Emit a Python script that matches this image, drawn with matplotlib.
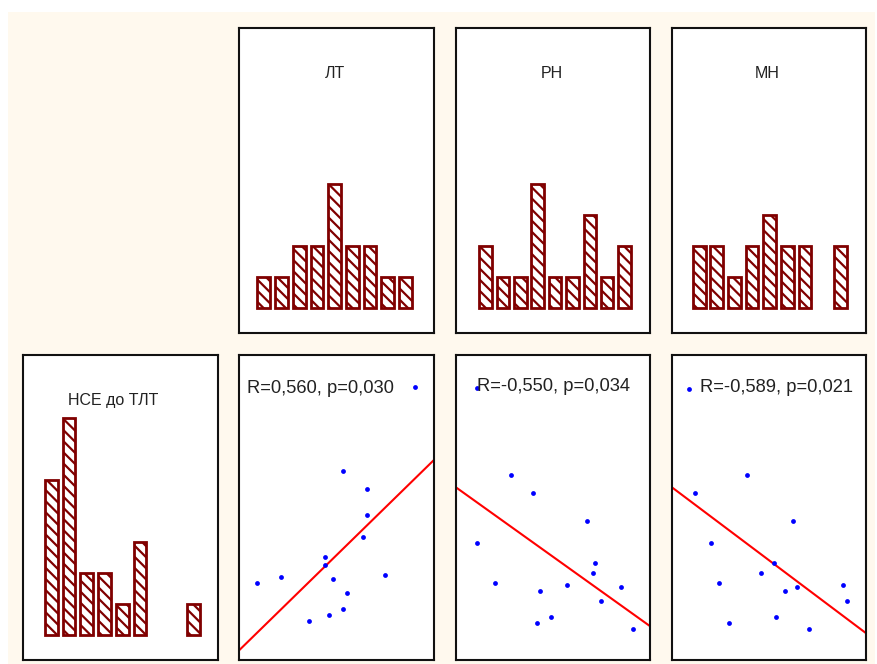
import numpy as np
import matplotlib.pyplot as plt
from matplotlib.patches import Rectangle

plt.rcParams['font.family'] = ['Liberation Sans', 'DejaVu Sans']
plt.rcParams['hatch.linewidth'] = 1.6

# ---------------- data ----------------
var_names = ['НСЕ до ТЛТ', 'ЛТ', 'РН', 'МН']

# histograms, 9 bins each
bin_idx = np.arange(9)
hist_nse = [5, 7, 2, 2, 1, 3, 0, 0, 1]
hist_lt = [1, 1, 2, 2, 4, 2, 2, 1, 1]
hist_rn = [2, 1, 1, 4, 1, 1, 3, 1, 2]
hist_mn = [2, 2, 1, 2, 3, 2, 2, 0, 2]

# scatter panels: x = column variable, y = НСЕ до ТЛТ (relative units 0..100)
lt_x = [90.2, 53.2, 65.5, 65.5, 63.4, 44.0, 44.0, 8.9, 21.1, 48.1, 74.7, 55.2, 53.2, 46.0, 35.7]
lt_y = [89.6, 62.1, 56.2, 47.6, 40.4, 33.9, 31.2, 25.2, 27.2, 26.6, 27.9, 22.0, 16.7, 14.8, 12.8]

rn_x = [11.0, 28.5, 39.8, 67.7, 11.0, 71.8, 70.8, 20.3, 43.1, 57.4, 85.2, 74.9, 49.1, 41.9, 91.4]
rn_y = [89.1, 60.8, 54.8, 45.7, 38.5, 31.9, 28.5, 25.2, 22.6, 24.6, 23.9, 19.3, 14.1, 12.1, 10.2]

mn_x = [8.9, 38.8, 12.0, 62.5, 20.3, 52.4, 46.0, 24.4, 58.4, 64.6, 88.3, 90.4, 53.5, 29.5, 70.8]
mn_y = [89.0, 60.8, 54.8, 45.7, 38.5, 31.9, 28.5, 25.2, 22.6, 23.9, 24.6, 19.3, 14.1, 12.1, 10.2]

# regression lines (intercept, slope)
fit_lt = (3.3, 0.623)
fit_rn = (56.6, -0.455)
fit_mn = (56.6, -0.478)

stat_labels = ['R=0,560, p=0,030', 'R=-0,550, p=0,034', 'R=-0,589, p=0,021']

# ---------------- layout (pixels) ----------------
W, H = 877, 664
COLS = [(23, 195), (239.5, 194.5), (456, 194), (672, 194)]
ROWS = [(28, 305), (355, 305)]
HIST_XLIM = [(-1.594, 9.39), (-1.365, 9.605), (-1.698, 9.467), (-1.542, 9.456)]
HIST_YLIM = (-0.816, 9.02)
TITLE_X = [0.463, 0.491, 0.492, 0.49]
STAT_POS = [(0.04, 0.889), (0.107, 0.896), (0.146, 0.894)]

BAR_RED = '#800000'
CREAM = '#fff9ee'

fig = plt.figure(figsize=(W / 100, H / 100), dpi=100)
fig.patch.set_facecolor('white')
fig.patches.append(Rectangle((8 / W, 0), (W - 10) / W, (H - 12) / H,
                             transform=fig.transFigure, facecolor=CREAM,
                             edgecolor='none', zorder=-10))


def add_panel(col, row):
    left, w = COLS[col]
    top, h = ROWS[row]
    ax = fig.add_axes([left / W, (H - top - h) / H, w / W, h / H])
    ax.set_facecolor('white')
    ax.set_xticks([])
    ax.set_yticks([])
    for s in ax.spines.values():
        s.set_linewidth(1.5)
        s.set_color('#111111')
    return ax


def draw_hist(ax, counts, col, title, title_y):
    counts = np.asarray(counts)
    keep = counts > 0
    ax.bar(bin_idx[keep], counts[keep], width=0.72, bottom=0,
           facecolor='white', edgecolor=BAR_RED, linewidth=2.0, hatch='\\\\\\')
    ax.set_xlim(*HIST_XLIM[col])
    ax.set_ylim(*HIST_YLIM)
    ax.text(TITLE_X[col], title_y, title, transform=ax.transAxes,
            ha='center', va='center', fontsize=11.5, color='#222222')


def draw_scatter(ax, x, y, fit, label, pos):
    ax.set_xlim(0, 100)
    ax.set_ylim(0, 100)
    xs = np.array(ax.get_xlim())
    ax.plot(xs, fit[0] + fit[1] * xs, color='#ff0000', linewidth=1.5, zorder=2)
    ax.scatter(x, y, s=12, color='#0000ff', linewidths=0, zorder=3)
    ax.text(pos[0], pos[1], label, transform=ax.transAxes,
            ha='left', va='center', fontsize=13.2, color='#222222', zorder=4)


# top row: histograms of ЛТ, РН, МН
draw_hist(add_panel(1, 0), hist_lt, 1, var_names[1], 0.851)
draw_hist(add_panel(2, 0), hist_rn, 2, var_names[2], 0.851)
draw_hist(add_panel(3, 0), hist_mn, 3, var_names[3], 0.851)

# bottom row: histogram of НСЕ and scatter plots
draw_hist(add_panel(0, 1), hist_nse, 0, var_names[0], 0.85)
draw_scatter(add_panel(1, 1), lt_x, lt_y, fit_lt, stat_labels[0], STAT_POS[0])
draw_scatter(add_panel(2, 1), rn_x, rn_y, fit_rn, stat_labels[1], STAT_POS[1])
draw_scatter(add_panel(3, 1), mn_x, mn_y, fit_mn, stat_labels[2], STAT_POS[2])

fig.savefig('out.png', dpi=100)
